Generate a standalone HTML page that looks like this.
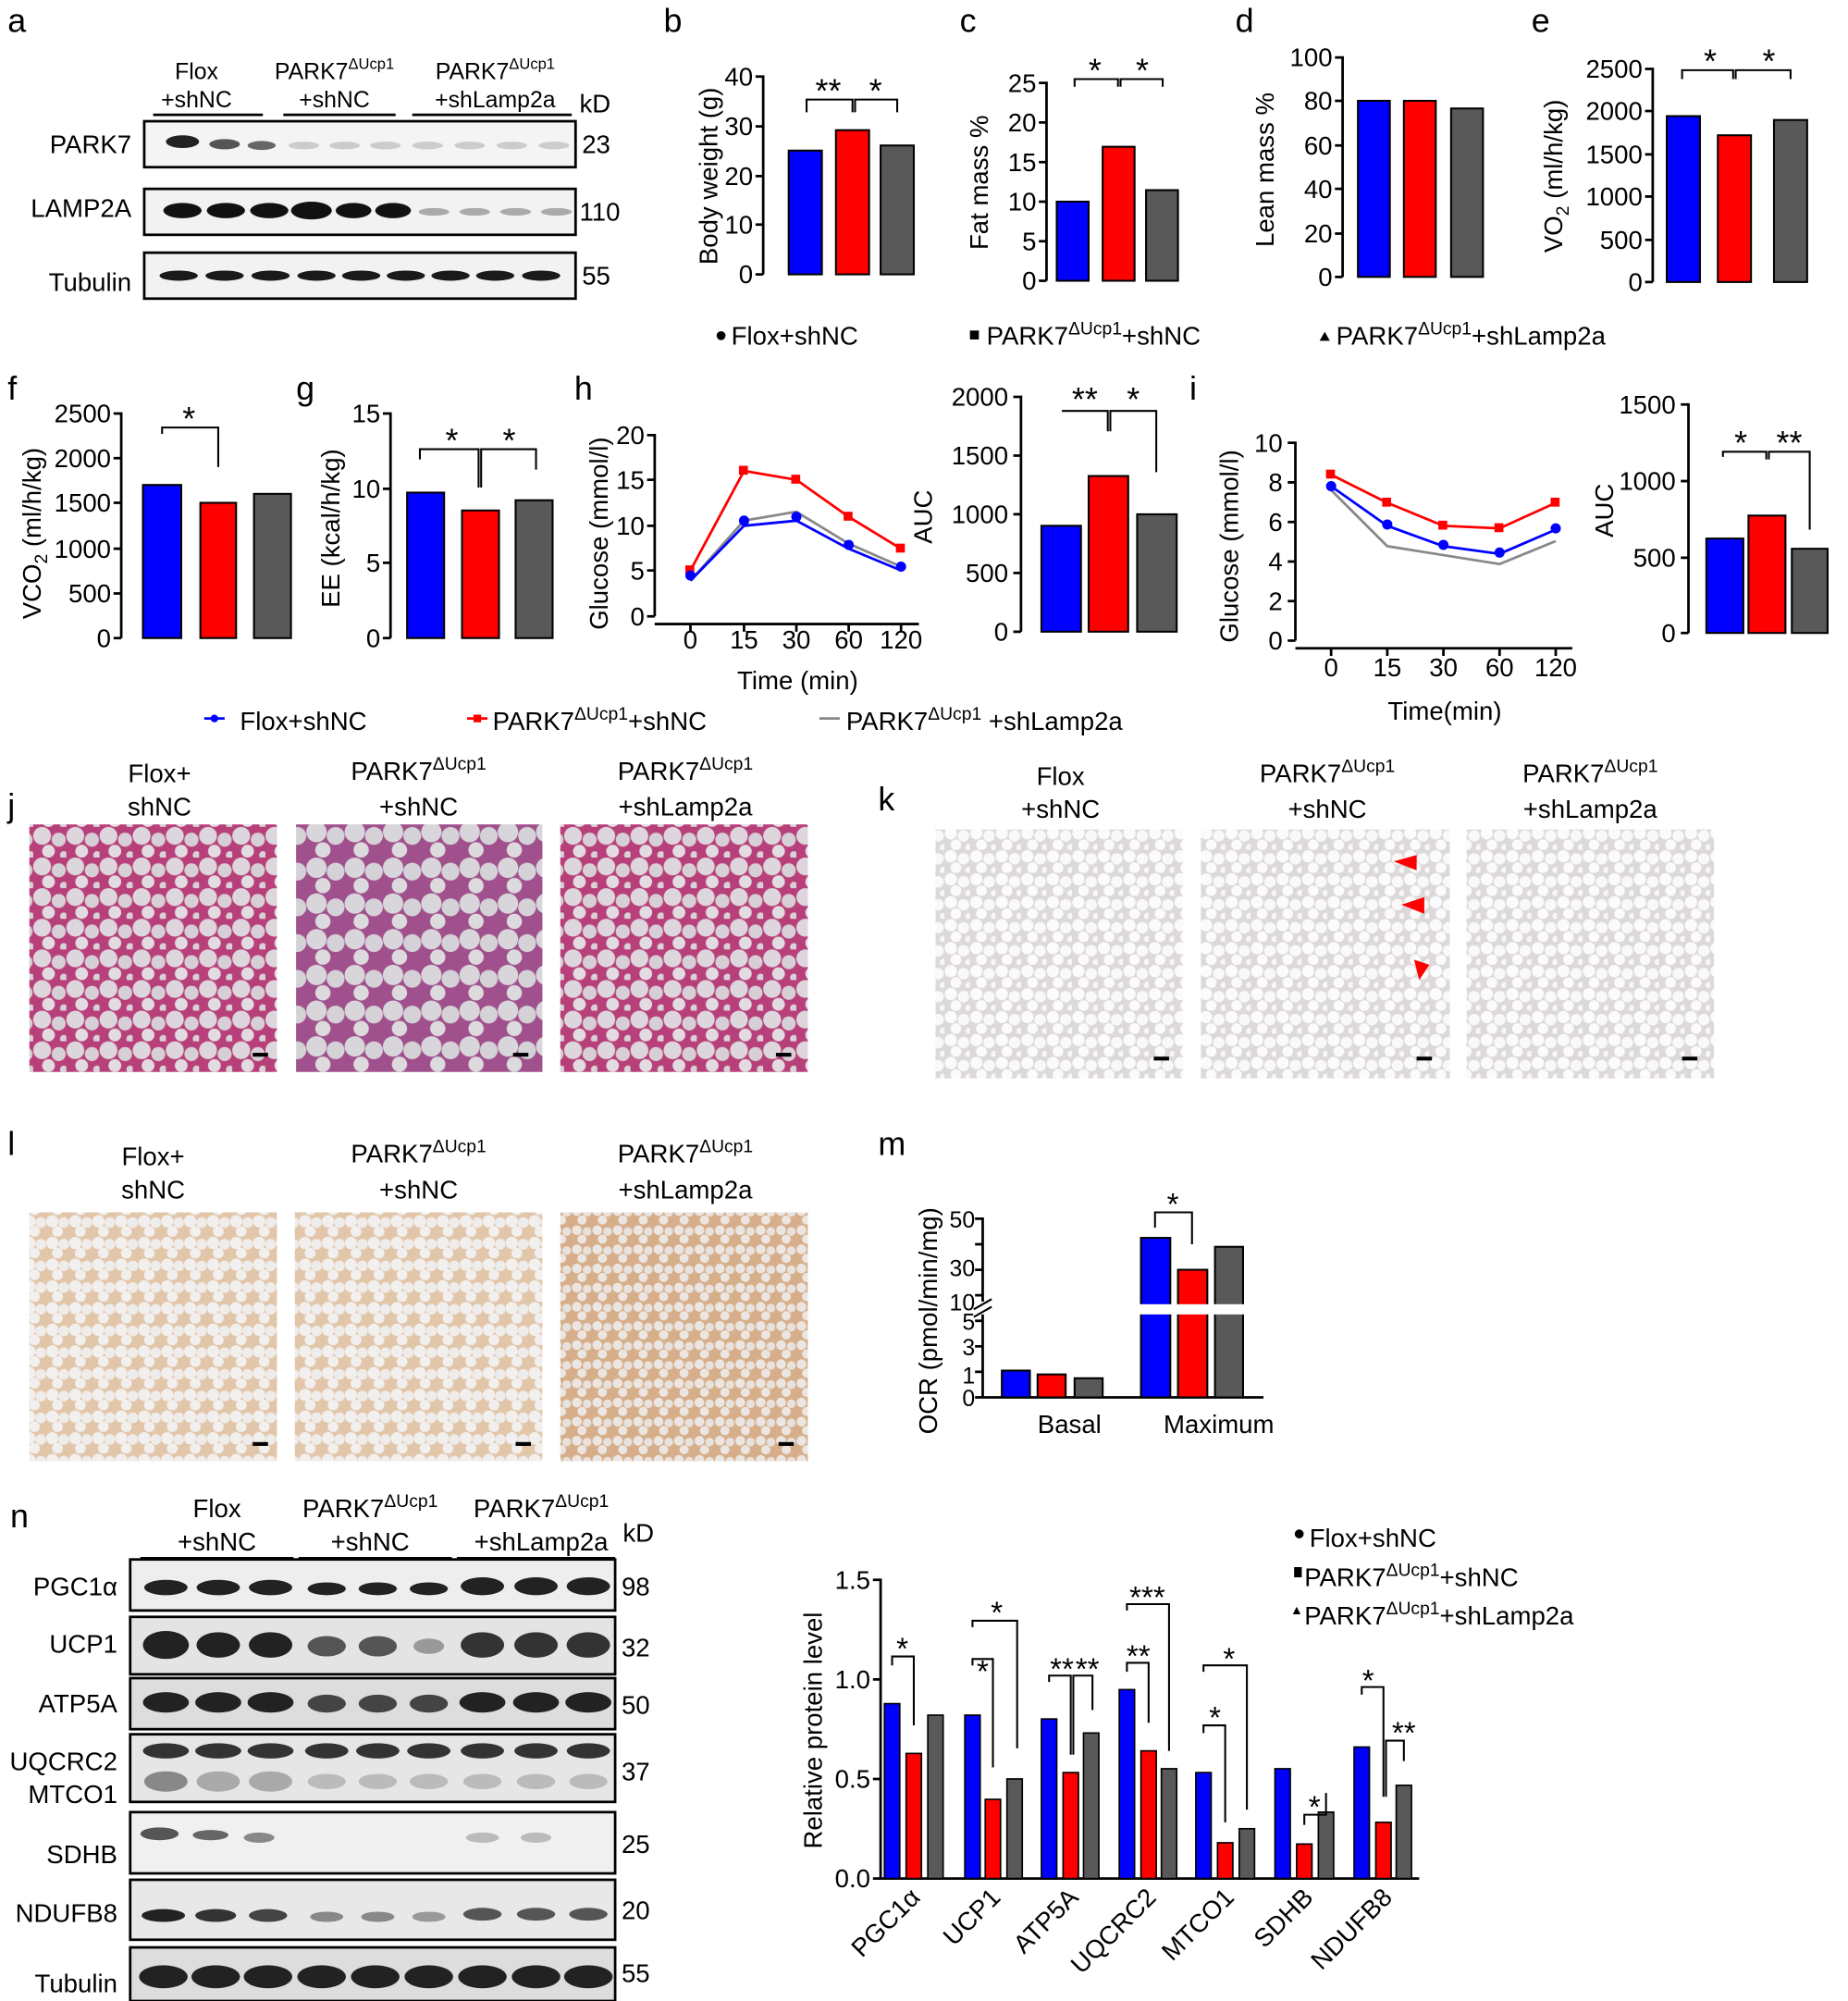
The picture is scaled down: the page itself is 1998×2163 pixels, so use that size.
<!DOCTYPE html>
<html><head><meta charset="utf-8"><style>html,body{margin:0;padding:0;background:#fff}svg{display:block}text{font-family:"Liberation Sans",Arial,sans-serif;fill:#000}</style></head><body>
<svg width="1998" height="2163" viewBox="0 0 1448 1568" preserveAspectRatio="none" xmlns="http://www.w3.org/2000/svg">
<defs>
<pattern id="he" width="26" height="24" patternUnits="userSpaceOnUse"><rect width="26" height="24" fill="#b8407a"/><circle cx="7" cy="7" r="7" fill="#ddd6dc"/><circle cx="20" cy="10" r="5.5" fill="#d6d0d6"/><circle cx="12" cy="19" r="5" fill="#e2dce2"/><circle cx="24" cy="22" r="3" fill="#d8d2d8"/></pattern>
<pattern id="he2" width="30" height="28" patternUnits="userSpaceOnUse"><rect width="30" height="28" fill="#a0508c"/><circle cx="8" cy="8" r="8" fill="#d8d6da"/><circle cx="23" cy="11" r="7" fill="#d4d2d6"/><circle cx="13" cy="22" r="6" fill="#dcdadc"/></pattern>
<pattern id="ihc" width="20" height="18" patternUnits="userSpaceOnUse"><rect width="20" height="18" fill="#ddd8da"/><circle cx="5" cy="5" r="4.8" fill="#fbfbfb"/><circle cx="15" cy="7" r="4.5" fill="#f9f9fa"/><circle cx="9" cy="14" r="4.2" fill="#fbfbfb"/><circle cx="19" cy="16" r="2.7" fill="#f7f7f7"/></pattern>
<pattern id="lb" width="18" height="17" patternUnits="userSpaceOnUse"><rect width="18" height="17" fill="#e2c6aa"/><circle cx="5" cy="5" r="4.8" fill="#f2f0ef"/><circle cx="14" cy="6" r="4.2" fill="#efedec"/><circle cx="9" cy="13" r="4.2" fill="#f2f0ef"/></pattern>
<pattern id="lb2" width="16" height="15" patternUnits="userSpaceOnUse"><rect width="16" height="15" fill="#d6ae8a"/><circle cx="4" cy="4" r="3.8" fill="#ece6e2"/><circle cx="12" cy="5" r="3.4" fill="#e8e2de"/><circle cx="8" cy="11" r="3.6" fill="#ece6e2"/></pattern>
</defs>
<g font-size="26"><text x="6" y="25">a</text><text x="520" y="25">b</text><text x="752" y="25">c</text><text x="968" y="25">d</text><text x="1200" y="25">e</text><text x="6" y="313">f</text><text x="232" y="313">g</text><text x="450" y="313">h</text><text x="932" y="313">i</text><text x="6" y="640">j</text><text x="688" y="635">k</text><text x="6" y="905">l</text><text x="688" y="905">m</text><text x="8" y="1197">n</text></g>

<g font-size="18" text-anchor="middle"><text x="154" y="62">Flox</text><text x="154" y="84">+shNC</text><text x="262" y="62">PARK7<tspan font-size="12" dy="-8">ΔUcp1</tspan></text><text x="262" y="84">+shNC</text><text x="388" y="62">PARK7<tspan font-size="12" dy="-8">ΔUcp1</tspan></text><text x="388" y="84">+shLamp2a</text></g>
<g stroke="#000" stroke-width="2"><line x1="120" y1="90" x2="206" y2="90"/><line x1="222" y1="90" x2="310" y2="90"/><line x1="323" y1="90" x2="448" y2="90"/></g>
<g font-size="20"><text x="103" y="120" text-anchor="end">PARK7</text><text x="103" y="170" text-anchor="end">LAMP2A</text><text x="103" y="228" text-anchor="end">Tubulin</text><text x="454" y="88">kD</text><text x="456" y="120">23</text><text x="454" y="173">110</text><text x="456" y="223">55</text></g>
<rect x="113" y="95" width="338" height="36" fill="#f4f4f4" stroke="#000" stroke-width="2"/>
<rect x="113" y="148" width="338" height="36" fill="#f2f2f2" stroke="#000" stroke-width="2"/>
<rect x="113" y="198" width="338" height="36" fill="#f2f2f2" stroke="#000" stroke-width="2"/>
<g fill="#222"><ellipse cx="143" cy="111" rx="13" ry="5"/><ellipse cx="176" cy="113" rx="12" ry="4" fill="#555"/><ellipse cx="205" cy="114" rx="11" ry="3.5" fill="#666"/></g>
<g fill="#ccc"><ellipse cx="238" cy="114" rx="12" ry="3"/><ellipse cx="270" cy="114" rx="12" ry="3"/><ellipse cx="302" cy="114" rx="12" ry="3"/><ellipse cx="335" cy="114" rx="12" ry="3"/><ellipse cx="368" cy="114" rx="12" ry="3"/><ellipse cx="401" cy="114" rx="12" ry="3"/><ellipse cx="434" cy="114" rx="12" ry="3"/></g>
<g fill="#111"><ellipse cx="143" cy="165" rx="15" ry="6"/><ellipse cx="177" cy="165" rx="15" ry="6"/><ellipse cx="211" cy="165" rx="15" ry="6"/><ellipse cx="244" cy="165" rx="16" ry="7"/><ellipse cx="277" cy="165" rx="14" ry="6"/><ellipse cx="308" cy="165" rx="14" ry="6"/></g>
<g fill="#aaa"><ellipse cx="340" cy="166" rx="12" ry="3"/><ellipse cx="372" cy="166" rx="12" ry="3"/><ellipse cx="404" cy="166" rx="12" ry="3"/><ellipse cx="436" cy="166" rx="12" ry="3"/></g>
<g fill="#1a1a1a"><ellipse cx="140" cy="216" rx="15" ry="4"/><ellipse cx="176" cy="216" rx="15" ry="4"/><ellipse cx="212" cy="216" rx="15" ry="4"/><ellipse cx="248" cy="216" rx="15" ry="4"/><ellipse cx="283" cy="216" rx="15" ry="4"/><ellipse cx="318" cy="216" rx="15" ry="4"/><ellipse cx="353" cy="216" rx="15" ry="4"/><ellipse cx="388" cy="216" rx="15" ry="4"/><ellipse cx="424" cy="216" rx="15" ry="4"/></g>

<g stroke="#000" stroke-width="2" fill="none">
<path d="M592 60H598V215M592 99H598M592 138H598M592 176H598M592 215H598"/>
<path d="M814 65H820V220M814 96H820M814 127H820M814 158H820M814 189H820M814 220H820"/>
<path d="M1046 45H1052V217M1046 79H1052M1046 114H1052M1046 148H1052M1046 183H1052M1046 217H1052"/>
<path d="M1289 54H1295V221M1289 87H1295M1289 121H1295M1289 154H1295M1289 188H1295M1289 221H1295"/>
<path d="M89 324H95V500M89 359H95M89 394H95M89 430H95M89 465H95M89 500H95"/>
<path d="M300 324H306V500M300 383H306M300 441H306M300 500H306"/>
<path d="M507 341H513V483M507 376H513M507 412H513M507 447H513M507 483H513M513 489H720M541 489V495M583 489V495M624 489V495M665 489V495M706 489V495"/>
<path d="M794 311H800V495M794 357H800M794 403H800M794 449H800M794 495H800"/>
<path d="M1009 347H1015V502M1009 378H1015M1009 409H1015M1009 440H1015M1009 471H1015M1009 502H1015M1015 508H1232M1043 508V514M1087 508V514M1131 508V514M1175 508V514M1219 508V514"/>
<path d="M1317 317H1323V496M1317 377H1323M1317 437H1323M1317 496H1323"/>
</g>
<g font-size="20" text-anchor="end">
<text x="590" y="67">40</text><text x="590" y="106">30</text><text x="590" y="145">20</text><text x="590" y="183">10</text><text x="590" y="222">0</text>
<text x="812" y="72">25</text><text x="812" y="103">20</text><text x="812" y="134">15</text><text x="812" y="165">10</text><text x="812" y="196">5</text><text x="812" y="227">0</text>
<text x="1044" y="52">100</text><text x="1044" y="86">80</text><text x="1044" y="121">60</text><text x="1044" y="155">40</text><text x="1044" y="190">20</text><text x="1044" y="224">0</text>
<text x="1287" y="61">2500</text><text x="1287" y="94">2000</text><text x="1287" y="128">1500</text><text x="1287" y="161">1000</text><text x="1287" y="195">500</text><text x="1287" y="228">0</text>
<text x="87" y="331">2500</text><text x="87" y="366">2000</text><text x="87" y="401">1500</text><text x="87" y="437">1000</text><text x="87" y="472">500</text><text x="87" y="507">0</text>
<text x="298" y="331">15</text><text x="298" y="390">10</text><text x="298" y="448">5</text><text x="298" y="507">0</text>
<text x="505" y="348">20</text><text x="505" y="383">15</text><text x="505" y="419">10</text><text x="505" y="454">5</text><text x="505" y="490">0</text>
<text x="790" y="318">2000</text><text x="790" y="364">1500</text><text x="790" y="410">1000</text><text x="790" y="456">500</text><text x="790" y="502">0</text>
<text x="1005" y="354">10</text><text x="1005" y="385">8</text><text x="1005" y="416">6</text><text x="1005" y="447">4</text><text x="1005" y="478">2</text><text x="1005" y="509">0</text>
<text x="1313" y="324">1500</text><text x="1313" y="384">1000</text><text x="1313" y="444">500</text><text x="1313" y="503">0</text>
</g>
<g font-size="20" text-anchor="middle"><text x="541" y="508">0</text><text x="583" y="508">15</text><text x="624" y="508">30</text><text x="665" y="508">60</text><text x="706" y="508">120</text><text x="625" y="540">Time (min)</text>
<text x="1043" y="530">0</text><text x="1087" y="530">15</text><text x="1131" y="530">30</text><text x="1175" y="530">60</text><text x="1219" y="530">120</text><text x="1132" y="564">Time(min)</text></g>
<g font-size="20" text-anchor="middle">
<text transform="translate(562 138) rotate(-90)">Body weight (g)</text>
<text transform="translate(774 143) rotate(-90)">Fat mass %</text>
<text transform="translate(998 133) rotate(-90)">Lean mass %</text>
<text transform="translate(1224 138) rotate(-90)">VO<tspan font-size="14" dy="5">2</tspan><tspan dy="-5"> (ml/h/kg)</tspan></text>
<text transform="translate(32 418) rotate(-90)">VCO<tspan font-size="14" dy="5">2</tspan><tspan dy="-5"> (ml/h/kg)</tspan></text>
<text transform="translate(266 414) rotate(-90)">EE (kcal/h/kg)</text>
<text transform="translate(476 418) rotate(-90)">Glucose (mmol/l)</text>
<text transform="translate(730 405) rotate(-90)">AUC</text>
<text transform="translate(970 428) rotate(-90)">Glucose (mmol/l)</text>
<text transform="translate(1264 400) rotate(-90)">AUC</text>
</g>
<g stroke="#000" stroke-width="1.5">
<g fill="#0000ff"><rect x="618" y="118" width="26" height="97"/><rect x="828" y="158" width="25" height="62"/><rect x="1064" y="79" width="25" height="138"/><rect x="1306" y="91" width="26" height="130"/><rect x="112" y="380" width="30" height="120"/><rect x="319" y="386" width="29" height="114"/><rect x="816" y="412" width="31" height="83"/><rect x="1337" y="422" width="29" height="74"/></g>
<g fill="#ff0000"><rect x="655" y="102" width="26" height="113"/><rect x="864" y="115" width="25" height="105"/><rect x="1100" y="79" width="25" height="138"/><rect x="1346" y="106" width="26" height="115"/><rect x="157" y="394" width="28" height="106"/><rect x="362" y="400" width="29" height="100"/><rect x="853" y="373" width="31" height="122"/><rect x="1370" y="404" width="29" height="92"/></g>
<g fill="#595959"><rect x="690" y="114" width="26" height="101"/><rect x="898" y="149" width="25" height="71"/><rect x="1137" y="85" width="25" height="132"/><rect x="1390" y="94" width="26" height="127"/><rect x="199" y="387" width="29" height="113"/><rect x="404" y="392" width="29" height="108"/><rect x="891" y="403" width="31" height="92"/><rect x="1404" y="430" width="28" height="66"/></g>
</g>
<g stroke="#000" stroke-width="1.5" fill="none">
<path d="M632 88V78H668V88M670 88V78H703V88M842 68V62H876V68M878 68V62H911V68M1318 62V55H1358V62M1360 62V55H1403V62M127 340V335H171V366M329 360V352H375V382M377 382V352H420V368M832 322V322H868V338M870 338V322H906V370M1350 358V354H1384V360M1386 360V354H1418V415"/>
</g>
<g font-size="26" text-anchor="middle"><text x="649" y="80">**</text><text x="686" y="80">*</text><text x="858" y="64">*</text><text x="895" y="64">*</text><text x="1340" y="57">*</text><text x="1386" y="57">*</text><text x="148" y="337">*</text><text x="354" y="354">*</text><text x="399" y="354">*</text><text x="850" y="322">**</text><text x="888" y="322">*</text><text x="1364" y="356">*</text><text x="1402" y="356">**</text></g>
<g fill="none" stroke-width="2"><polyline stroke="#ff0000" points="541,447 583,369 624,376 665,405 706,430"/><polyline stroke="#888" points="541,455 583,408 624,401 665,426 706,444"/><polyline stroke="#0000ff" points="541,455 583,412 624,408 665,430 706,447"/>
<polyline stroke="#ff0000" points="1043,372 1087,394 1131,412 1175,414 1219,394"/><polyline stroke="#888" points="1043,384 1087,428 1131,435 1175,442 1219,424"/><polyline stroke="#0000ff" points="1043,381 1087,412 1131,428 1175,434 1219,415"/></g>
<g fill="#ff0000"><rect x="537" y="443" width="7" height="7"/><rect x="579" y="365" width="7" height="7"/><rect x="620" y="372" width="7" height="7"/><rect x="661" y="401" width="7" height="7"/><rect x="702" y="426" width="7" height="7"/><rect x="1039" y="368" width="7" height="7"/><rect x="1083" y="390" width="7" height="7"/><rect x="1127" y="408" width="7" height="7"/><rect x="1171" y="410" width="7" height="7"/><rect x="1215" y="390" width="7" height="7"/></g>
<g fill="#0000ff"><circle cx="541" cy="451" r="4"/><circle cx="583" cy="408" r="4"/><circle cx="624" cy="405" r="4"/><circle cx="665" cy="427" r="4"/><circle cx="706" cy="444" r="4"/><circle cx="1043" cy="381" r="4"/><circle cx="1087" cy="411" r="4"/><circle cx="1131" cy="427" r="4"/><circle cx="1175" cy="433" r="4"/><circle cx="1219" cy="414" r="4"/></g>
<g font-size="20"><circle cx="565" cy="263" r="3.5"/><text x="573" y="270">Flox+shNC</text><rect x="760" y="259" width="7" height="7"/><text x="773" y="270">PARK7<tspan font-size="14" dy="-8">ΔUcp1</tspan><tspan dy="8">+shNC</tspan></text><path d="M1034 267l4-7 4 7z"/><text x="1047" y="270">PARK7<tspan font-size="14" dy="-8">ΔUcp1</tspan><tspan dy="8">+shLamp2a</tspan></text>
<line x1="160" y1="563" x2="176" y2="563" stroke="#0000ff" stroke-width="2"/><circle cx="168" cy="563" r="3" fill="#0000ff"/><text x="188" y="572">Flox+shNC</text>
<line x1="366" y1="563" x2="382" y2="563" stroke="#ff0000" stroke-width="2"/><rect x="371" y="560" width="6" height="6" fill="#ff0000"/><text x="386" y="572">PARK7<tspan font-size="14" dy="-8">ΔUcp1</tspan><tspan dy="8">+shNC</tspan></text>
<line x1="642" y1="563" x2="658" y2="563" stroke="#888" stroke-width="2"/><text x="663" y="572">PARK7<tspan font-size="14" dy="-8">ΔUcp1</tspan><tspan dy="8"> +shLamp2a</tspan></text></g>

<g font-size="20" text-anchor="middle">
<text x="125" y="613">Flox+</text><text x="125" y="639">shNC</text><text x="328" y="611">PARK7<tspan font-size="14" dy="-8">ΔUcp1</tspan></text><text x="328" y="639">+shNC</text><text x="537" y="611">PARK7<tspan font-size="14" dy="-8">ΔUcp1</tspan></text><text x="537" y="639">+shLamp2a</text>
<text x="831" y="615">Flox</text><text x="831" y="641">+shNC</text><text x="1040" y="613">PARK7<tspan font-size="14" dy="-8">ΔUcp1</tspan></text><text x="1040" y="641">+shNC</text><text x="1246" y="613">PARK7<tspan font-size="14" dy="-8">ΔUcp1</tspan></text><text x="1246" y="641">+shLamp2a</text>
<text x="120" y="913">Flox+</text><text x="120" y="939">shNC</text><text x="328" y="911">PARK7<tspan font-size="14" dy="-8">ΔUcp1</tspan></text><text x="328" y="939">+shNC</text><text x="537" y="911">PARK7<tspan font-size="14" dy="-8">ΔUcp1</tspan></text><text x="537" y="939">+shLamp2a</text></g>
<rect x="23" y="646" width="194" height="194" fill="url(#he)"/><rect x="232" y="646" width="193" height="194" fill="url(#he2)"/><rect x="439" y="646" width="194" height="194" fill="url(#he)"/>
<rect x="733" y="650" width="194" height="195" fill="url(#ihc)"/><rect x="941" y="650" width="195" height="195" fill="url(#ihc)"/><rect x="1149" y="650" width="194" height="195" fill="url(#ihc)"/>
<rect x="23" y="950" width="194" height="195" fill="url(#lb)"/><rect x="231" y="950" width="194" height="195" fill="url(#lb)"/><rect x="439" y="950" width="194" height="195" fill="url(#lb2)"/>
<g fill="#000"><rect x="198" y="825" width="12" height="3"/><rect x="402" y="825" width="12" height="3"/><rect x="608" y="825" width="12" height="3"/><rect x="904" y="828" width="12" height="3"/><rect x="1110" y="828" width="12" height="3"/><rect x="1318" y="828" width="12" height="3"/><rect x="198" y="1130" width="12" height="3"/><rect x="404" y="1130" width="12" height="3"/><rect x="610" y="1130" width="12" height="3"/></g>
<g fill="#f00"><path d="M1092 675l18-5v12z"/><path d="M1098 709l18-6v13z"/><path d="M1108 752l12 4-8 12z"/></g>

<g stroke="#000" stroke-width="2" fill="none"><path d="M764 955H770V1020M770 1030V1095M764 975H770M764 995H770M764 1015H770M764 1035H770M764 1055H770M764 1075H770M764 1095H770M770 1095H990"/><path d="M763 1026l14-8M763 1032l14-8" stroke-width="1.5"/></g>
<g font-size="18" text-anchor="end"><text x="764" y="962">50</text><text x="764" y="1000">30</text><text x="764" y="1027">10</text><text x="764" y="1042">5</text><text x="764" y="1062">3</text><text x="764" y="1084">1</text><text x="764" y="1102">0</text></g>
<text transform="translate(734 1035) rotate(-90)" font-size="20" text-anchor="middle">OCR (pmol/min/mg)</text>
<g font-size="20" text-anchor="middle"><text x="838" y="1123">Basal</text><text x="955" y="1123">Maximum</text></g>
<g stroke="#000" stroke-width="1.5"><rect x="785" y="1074" width="22" height="21" fill="#0000ff"/><rect x="813" y="1077" width="22" height="18" fill="#ff0000"/><rect x="842" y="1080" width="22" height="15" fill="#595959"/>
<rect x="894" y="970" width="23" height="125" fill="#0000ff"/><rect x="923" y="995" width="23" height="100" fill="#ff0000"/><rect x="952" y="977" width="22" height="118" fill="#595959"/></g>
<rect x="890" y="1022" width="90" height="8" fill="#fff"/>
<path d="M905 962V950H934V975" stroke="#000" fill="none" stroke-width="1.5"/><text x="919" y="952" font-size="24" text-anchor="middle">*</text>

<g font-size="20" text-anchor="middle"><text x="170" y="1189">Flox</text><text x="170" y="1215">+shNC</text><text x="290" y="1189">PARK7<tspan font-size="14" dy="-8">ΔUcp1</tspan></text><text x="290" y="1215">+shNC</text><text x="424" y="1189">PARK7<tspan font-size="14" dy="-8">ΔUcp1</tspan></text><text x="424" y="1215">+shLamp2a</text></g>
<g stroke="#000" stroke-width="2"><line x1="110" y1="1221" x2="230" y2="1221"/><line x1="234" y1="1221" x2="354" y2="1221"/><line x1="358" y1="1221" x2="482" y2="1221"/></g>
<g font-size="20"><text x="488" y="1208">kD</text><text x="92" y="1250" text-anchor="end">PGC1α</text><text x="92" y="1295" text-anchor="end">UCP1</text><text x="92" y="1342" text-anchor="end">ATP5A</text><text x="92" y="1387" text-anchor="end">UQCRC2</text><text x="92" y="1413" text-anchor="end">MTCO1</text><text x="92" y="1460" text-anchor="end">SDHB</text><text x="92" y="1506" text-anchor="end">NDUFB8</text><text x="92" y="1561" text-anchor="end">Tubulin</text>
<text x="487" y="1250">98</text><text x="487" y="1298">32</text><text x="487" y="1343">50</text><text x="487" y="1395">37</text><text x="487" y="1452">25</text><text x="487" y="1504">20</text><text x="487" y="1553">55</text></g>
<g stroke="#000" stroke-width="2"><rect x="102" y="1222" width="380" height="40" fill="#eee"/><rect x="102" y="1267" width="380" height="45" fill="#e4e4e4"/><rect x="102" y="1315" width="380" height="40" fill="#ddd"/><rect x="102" y="1359" width="380" height="53" fill="#e6e6e6"/><rect x="102" y="1420" width="380" height="48" fill="#f0f0f0"/><rect x="102" y="1473" width="380" height="47" fill="#e8e8e8"/><rect x="102" y="1526" width="380" height="42" fill="#ddd"/></g>
<g fill="#222">
<ellipse cx="130" cy="1244" rx="17" ry="6"/><ellipse cx="171" cy="1244" rx="17" ry="6"/><ellipse cx="212" cy="1244" rx="17" ry="6"/><ellipse cx="256" cy="1245" rx="15" ry="5"/><ellipse cx="296" cy="1245" rx="15" ry="5"/><ellipse cx="336" cy="1245" rx="15" ry="5"/><ellipse cx="378" cy="1243" rx="17" ry="7"/><ellipse cx="420" cy="1243" rx="17" ry="7"/><ellipse cx="461" cy="1243" rx="17" ry="7"/>
<ellipse cx="130" cy="1289" rx="18" ry="11"/><ellipse cx="171" cy="1289" rx="17" ry="10"/><ellipse cx="212" cy="1289" rx="17" ry="10"/><ellipse cx="256" cy="1290" rx="15" ry="8" fill="#555"/><ellipse cx="296" cy="1290" rx="15" ry="8" fill="#555"/><ellipse cx="336" cy="1290" rx="12" ry="6" fill="#999"/><ellipse cx="378" cy="1289" rx="17" ry="10" fill="#333"/><ellipse cx="420" cy="1289" rx="17" ry="10" fill="#333"/><ellipse cx="461" cy="1289" rx="17" ry="10" fill="#333"/>
<ellipse cx="130" cy="1334" rx="18" ry="8"/><ellipse cx="171" cy="1334" rx="18" ry="8"/><ellipse cx="212" cy="1334" rx="18" ry="8"/><ellipse cx="256" cy="1335" rx="15" ry="7" fill="#444"/><ellipse cx="296" cy="1335" rx="15" ry="7" fill="#444"/><ellipse cx="336" cy="1335" rx="15" ry="7" fill="#444"/><ellipse cx="378" cy="1334" rx="18" ry="8"/><ellipse cx="420" cy="1334" rx="18" ry="8"/><ellipse cx="461" cy="1334" rx="18" ry="8"/>
<ellipse cx="130" cy="1372" rx="18" ry="6" fill="#333"/><ellipse cx="171" cy="1372" rx="18" ry="6" fill="#333"/><ellipse cx="212" cy="1372" rx="18" ry="6" fill="#333"/><ellipse cx="256" cy="1372" rx="17" ry="6" fill="#333"/><ellipse cx="296" cy="1372" rx="17" ry="6" fill="#333"/><ellipse cx="336" cy="1372" rx="17" ry="6" fill="#333"/><ellipse cx="378" cy="1372" rx="17" ry="6" fill="#333"/><ellipse cx="420" cy="1372" rx="17" ry="6" fill="#333"/><ellipse cx="461" cy="1372" rx="17" ry="6" fill="#333"/>
<ellipse cx="130" cy="1396" rx="17" ry="8" fill="#888"/><ellipse cx="171" cy="1396" rx="17" ry="8" fill="#aaa"/><ellipse cx="212" cy="1396" rx="17" ry="8" fill="#aaa"/><ellipse cx="256" cy="1396" rx="15" ry="6" fill="#bbb"/><ellipse cx="296" cy="1396" rx="15" ry="6" fill="#bbb"/><ellipse cx="336" cy="1396" rx="15" ry="6" fill="#bbb"/><ellipse cx="378" cy="1396" rx="15" ry="6" fill="#bbb"/><ellipse cx="420" cy="1396" rx="15" ry="6" fill="#bbb"/><ellipse cx="461" cy="1396" rx="15" ry="6" fill="#bbb"/>
<ellipse cx="125" cy="1437" rx="15" ry="5" fill="#555"/><ellipse cx="165" cy="1438" rx="14" ry="4" fill="#666"/><ellipse cx="203" cy="1440" rx="12" ry="4" fill="#888"/><ellipse cx="378" cy="1440" rx="13" ry="4" fill="#bbb"/><ellipse cx="420" cy="1440" rx="12" ry="4" fill="#bbb"/>
<ellipse cx="128" cy="1501" rx="17" ry="5"/><ellipse cx="169" cy="1501" rx="16" ry="5" fill="#333"/><ellipse cx="210" cy="1501" rx="15" ry="5" fill="#444"/><ellipse cx="256" cy="1502" rx="13" ry="4" fill="#888"/><ellipse cx="296" cy="1502" rx="13" ry="4" fill="#888"/><ellipse cx="336" cy="1502" rx="13" ry="4" fill="#999"/><ellipse cx="378" cy="1500" rx="15" ry="5" fill="#555"/><ellipse cx="420" cy="1500" rx="15" ry="5" fill="#555"/><ellipse cx="461" cy="1500" rx="15" ry="5" fill="#555"/>
<ellipse cx="128" cy="1549" rx="19" ry="9"/><ellipse cx="169" cy="1549" rx="19" ry="9"/><ellipse cx="210" cy="1549" rx="19" ry="9"/><ellipse cx="252" cy="1549" rx="19" ry="9"/><ellipse cx="294" cy="1549" rx="19" ry="9"/><ellipse cx="336" cy="1549" rx="19" ry="9"/><ellipse cx="378" cy="1549" rx="19" ry="9"/><ellipse cx="420" cy="1549" rx="19" ry="9"/><ellipse cx="461" cy="1549" rx="19" ry="9"/>
</g>

<g stroke="#000" stroke-width="2" fill="none"><path d="M684 1238H690V1472H1112M684 1316H690M684 1394H690M684 1472H690"/></g>
<g font-size="20" text-anchor="end"><text x="682" y="1245">1.5</text><text x="682" y="1323">1.0</text><text x="682" y="1401">0.5</text><text x="682" y="1479">0.0</text></g>
<text transform="translate(644 1356) rotate(-90)" font-size="20" text-anchor="middle">Relative  protein level</text>
<g stroke="#000" stroke-width="1.2">
<g fill="#0000ff"><rect x="693" y="1335" width="12" height="137"/><rect x="756" y="1344" width="12" height="128"/><rect x="816" y="1347" width="12" height="125"/><rect x="877" y="1324" width="12" height="148"/><rect x="937" y="1389" width="12" height="83"/><rect x="999" y="1386" width="12" height="86"/><rect x="1061" y="1369" width="12" height="103"/></g>
<g fill="#ff0000"><rect x="710" y="1374" width="12" height="98"/><rect x="772" y="1410" width="12" height="62"/><rect x="833" y="1389" width="12" height="83"/><rect x="894" y="1372" width="12" height="100"/><rect x="954" y="1444" width="12" height="28"/><rect x="1016" y="1445" width="12" height="27"/><rect x="1078" y="1428" width="12" height="44"/></g>
<g fill="#595959"><rect x="727" y="1344" width="12" height="128"/><rect x="789" y="1394" width="12" height="78"/><rect x="849" y="1358" width="12" height="114"/><rect x="910" y="1386" width="12" height="86"/><rect x="971" y="1433" width="12" height="39"/><rect x="1033" y="1420" width="12" height="52"/><rect x="1094" y="1399" width="12" height="73"/></g>
</g>
<g stroke="#000" stroke-width="1.5" fill="none"><path d="M699 1305V1298H716V1352M762 1305V1300H778V1385M762 1275V1270H797V1370M822 1318V1313H839V1375M841 1375V1313H856V1340M883 1310V1303H900V1350M883 1262V1257H916V1372M943 1358V1352H960V1428M943 1310V1305H977V1418M1022 1430V1422H1039V1405M1067 1328V1322H1084V1408M1086 1408V1364H1100V1380"/></g>
<g font-size="24" text-anchor="middle"><text x="707" y="1300">*</text><text x="770" y="1318">*</text><text x="781" y="1272">*</text><text x="832" y="1316">**</text><text x="852" y="1316">**</text><text x="892" y="1306">**</text><text x="899" y="1260">***</text><text x="952" y="1354">*</text><text x="963" y="1308">*</text><text x="1030" y="1424">*</text><text x="1072" y="1325">*</text><text x="1100" y="1366">**</text></g>
<g font-size="20" text-anchor="end">
<text transform="translate(722 1488) rotate(-45)">PGC1α</text><text transform="translate(785 1488) rotate(-45)">UCP1</text><text transform="translate(846 1488) rotate(-45)">ATP5A</text><text transform="translate(907 1488) rotate(-45)">UQCRC2</text><text transform="translate(968 1488) rotate(-45)">MTCO1</text><text transform="translate(1030 1488) rotate(-45)">SDHB</text><text transform="translate(1092 1488) rotate(-45)">NDUFB8</text></g>
<g font-size="20"><circle cx="1018" cy="1202" r="3.5"/><text x="1026" y="1212">Flox+shNC</text><rect x="1014" y="1228" width="6" height="8"/><text x="1022" y="1243">PARK7<tspan font-size="14" dy="-8">ΔUcp1</tspan><tspan dy="8">+shNC</tspan></text><path d="M1013 1265l3-6 3 6z"/><text x="1022" y="1273">PARK7<tspan font-size="14" dy="-8">ΔUcp1</tspan><tspan dy="8">+shLamp2a</tspan></text></g>
</svg>
</body></html>
